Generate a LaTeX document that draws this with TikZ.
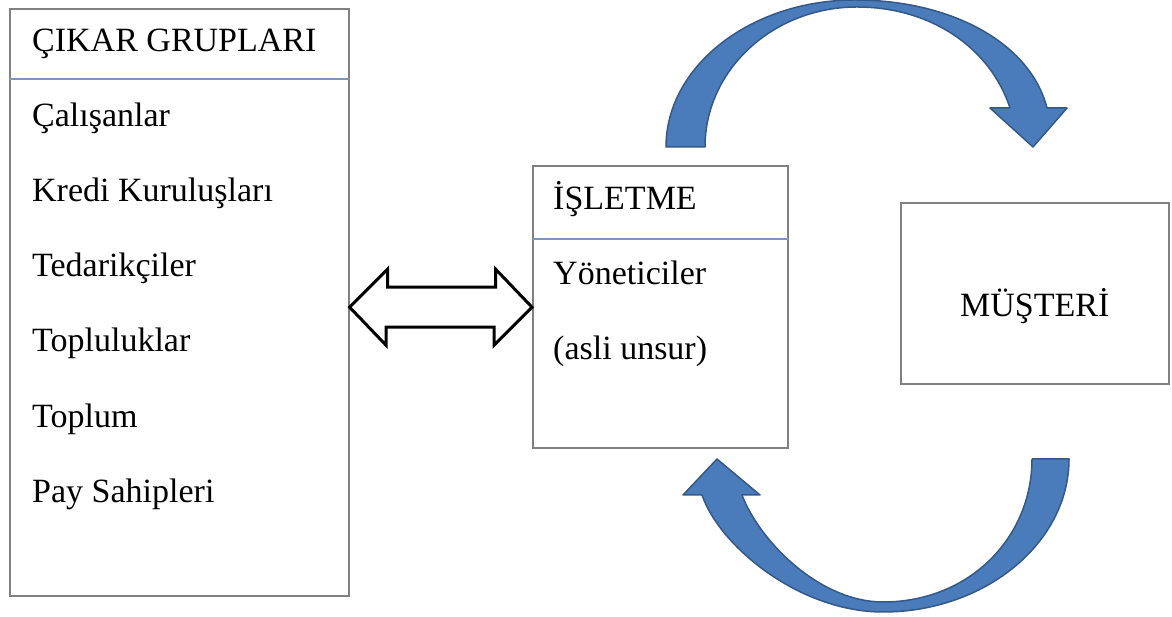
\documentclass[tikz,border=0pt]{standalone}
\usepackage{fontspec}
\setmainfont{Liberation Serif}
\usepackage{tikz}
\definecolor{boxgray}{RGB}{128,128,128}
\definecolor{sepblue}{RGB}{120,150,190}
\definecolor{arrowblue}{RGB}{74,124,187}
\definecolor{arrowedge}{RGB}{52,88,136}
\newcommand{\lblfont}{\fontsize{34}{40}\selectfont}
\tikzset{
  box/.style={draw=boxgray,line width=1.6pt,inner sep=0pt,anchor=south west},
  sepline/.style={draw=sepblue,line width=1.2pt},
  lbl/.style={anchor=base west,inner sep=0pt,font=\lblfont},
  bigarrow/.style={fill=arrowblue,draw=arrowedge,line width=1.5pt,line join=round},
  dblarrow/.style={draw=black,fill=white,line width=3pt,line join=miter}
}

\begin{document}
\begin{tikzpicture}[x=1pt,y=1pt]
\useasboundingbox (0,0) rectangle (1172,617);
% boxes
\node[box,minimum width=339pt,minimum height=587pt] (cikar) at (9,20) {};
\node[box,minimum width=255pt,minimum height=282pt] (isletme) at (532,168) {};
\node[box,minimum width=268pt,minimum height=181pt] (musteri) at (900,232) {};
\draw[sepline] (cikar.west |- 0,538) -- (cikar.east |- 0,538);
\draw[sepline] (isletme.west |- 0,378) -- (isletme.east |- 0,378);
% left box texts
\node[lbl] (baslik) at (32,565) {ÇIKAR GRUPLARI};
\node[lbl] (calisan) at (32,490) {Çalışanlar};
\node[lbl] (kredi) at (32,415) {Kredi Kuruluşları};
\node[lbl] (tedarik) at (32,340) {Tedarikçiler};
\node[lbl] (topluluk) at (32,265) {Topluluklar};
\node[lbl] (toplum) at (32,189) {Toplum};
\node[lbl] (pay) at (32,114) {Pay Sahipleri};
% middle box texts
\node[lbl] (isl) at (553,407) {İŞLETME};
\node[lbl] (yon) at (553,332) {Yöneticiler};
\node[lbl] (asli) at (553,257) {(asli unsur)};
% right box text
\node[font=\lblfont,inner sep=0pt,anchor=base] (mus) at (musteri.center |- 0,300) {MÜŞTERİ};
% double arrow between cikar and isletme
\draw[dblarrow] (cikar.east |- isletme.west) -- ++(38,38) -- ++(0,-18) -- ++(108,0)
  -- ++(0,18) -- (isletme.west) -- ++(-38,-38) -- ++(0,18) -- ++(-108,0)
  -- ++(0,-18) -- cycle;
% top curved arrow
\draw[bigarrow] (666,470) .. controls (666,551) and (751,617) .. (855,617)
  .. controls (950,617) and (1030,575) .. (1047,509)
  -- (1067,509) -- (1033,470) -- (990,509) -- (1010,509)
  .. controls (990,570) and (930,610) .. (857,610)
  .. controls (773,610) and (705,547) .. (705,470) -- cycle;
% bottom curved arrow
\draw[bigarrow] (1069,158) .. controls (1069,74) and (985,5) .. (883,5)
  .. controls (800,5) and (720,70) .. (702,122)
  -- (683,122) -- (717,158) -- (760,122) -- (742,122)
  .. controls (760,75) and (820,15) .. (883,15)
  .. controls (970,15) and (1032,80) .. (1032,158) -- cycle;
\end{tikzpicture}
\end{document}
